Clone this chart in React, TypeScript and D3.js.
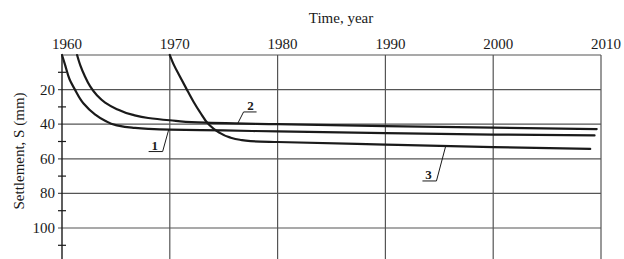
import React, { useRef, useEffect } from "react";
import * as d3 from "d3";

// settlement curves, [year, S (mm)]
const curve1: [number, number][] = [
  [1960, 0], [1960.3, 6], [1960.7, 14], [1961.2, 20], [1962, 28], [1963, 34],
  [1964, 38], [1965, 40.5], [1966.5, 42], [1968, 42.7], [1970, 43.1],
  [1975, 43.6], [1980, 44.2], [1990, 45.2], [2000, 46], [2009.4, 46.5],
];
const curve2: [number, number][] = [
  [1961.4, 0], [1961.7, 6], [1962.1, 12], [1962.6, 18], [1963.2, 23],
  [1964, 27.5], [1965, 31], [1966.5, 34.5], [1968, 36.4], [1970, 37.7],
  [1972.6, 39], [1980, 40], [1990, 41.1], [2000, 42], [2009.6, 42.8],
];
const curve3: [number, number][] = [
  [1970, 0], [1970.4, 6], [1970.9, 12], [1971.5, 19], [1972.2, 27],
  [1972.8, 33], [1973.6, 40], [1974.5, 44.5], [1975.5, 47.5], [1976.5, 49],
  [1977.5, 49.8], [1980, 50.3], [1990, 51.8], [2000, 53.2], [2009, 54.3],
];
const series = [curve1, curve2, curve3];

const yearTicks = [1960, 1970, 1980, 1990, 2000, 2010];
const settlementTicks = [20, 40, 60, 80, 100];
const minorTicks = [10, 30, 50, 70, 90, 110];

// curve labels: name, label point (year, S), curve point the leader goes to
const labels = [
  { name: "1", at: [1968.5, 53.5], tip: [1969.9, 43.1], side: "left" },
  { name: "2", at: [1977.4, 30.6], tip: [1976.3, 39.6], side: "right" },
  { name: "3", at: [1993.9, 70.5], tip: [1995.6, 52.5], side: "left" },
];

function App() {
  const svgRef = useRef<SVGSVGElement>(null);
  const width = 624;
  const height = 259;

  useEffect(() => {
    const svg = d3.select(svgRef.current);
    svg.selectAll("*").remove();

    const x = d3.scaleLinear().domain([1960, 2010]).range([62, 601]);
    const y = d3.scaleLinear().domain([0, 120]).range([55, 262.6]);
    const ink = "#1a1a1a";
    const grid = "#555";
    const font = "'Liberation Serif', 'Times New Roman', serif";

    svg.append("rect").attr("width", width).attr("height", height).attr("fill", "#fff");

    // gridlines
    svg.append("g")
      .selectAll("line")
      .data(yearTicks.slice(1))
      .join("line")
      .attr("x1", (d) => x(d)).attr("x2", (d) => x(d))
      .attr("y1", y(0)).attr("y2", y(120))
      .attr("stroke", grid).attr("stroke-width", 1.2);

    svg.append("g")
      .selectAll("line")
      .data(settlementTicks)
      .join("line")
      .attr("x1", x(1960) - 4).attr("x2", x(2010))
      .attr("y1", (d) => y(d)).attr("y2", (d) => y(d))
      .attr("stroke", grid).attr("stroke-width", 1.2);

    // top border and left axis
    svg.append("line")
      .attr("x1", x(1960)).attr("x2", x(2010))
      .attr("y1", y(0)).attr("y2", y(0))
      .attr("stroke", grid).attr("stroke-width", 1.2);
    svg.append("line")
      .attr("x1", x(1960)).attr("x2", x(1960))
      .attr("y1", y(0)).attr("y2", y(120))
      .attr("stroke", ink).attr("stroke-width", 1.4);

    svg.append("g")
      .selectAll("line")
      .data(minorTicks)
      .join("line")
      .attr("x1", x(1960) - 4).attr("x2", x(1960) + 4)
      .attr("y1", (d) => y(d)).attr("y2", (d) => y(d))
      .attr("stroke", ink).attr("stroke-width", 1.2);

    // tick labels
    svg.append("g")
      .selectAll("text")
      .data(yearTicks)
      .join("text")
      .attr("x", (d) => x(d) + 5)
      .attr("y", 49)
      .attr("text-anchor", "middle")
      .attr("font-family", font).attr("font-size", 15)
      .attr("fill", ink)
      .text((d) => d);

    svg.append("g")
      .selectAll("text")
      .data(settlementTicks)
      .join("text")
      .attr("x", 55)
      .attr("y", (d) => y(d) + 5)
      .attr("text-anchor", "end")
      .attr("font-family", font).attr("font-size", 15)
      .attr("fill", ink)
      .text((d) => d);

    // axis titles
    svg.append("text")
      .attr("x", 341).attr("y", 23)
      .attr("text-anchor", "middle")
      .attr("font-family", font).attr("font-size", 15)
      .attr("fill", ink)
      .text("Time, year");

    svg.append("text")
      .attr("transform", "translate(24,151) rotate(-90)")
      .attr("text-anchor", "middle")
      .attr("font-family", font).attr("font-size", 15)
      .attr("fill", ink)
      .text("Settlement, S (mm)");

    // curves (S rises steadily, so interpolate along the S axis)
    const curveLine = d3.line<[number, number]>()
      .x((d) => x(d[0]))
      .y((d) => y(d[1]))
      .curve(d3.curveMonotoneY);

    svg.append("g")
      .selectAll("path")
      .data(series)
      .join("path")
      .attr("d", (d) => curveLine(d))
      .attr("fill", "none")
      .attr("stroke", ink)
      .attr("stroke-width", 2.2)
      .attr("stroke-linecap", "round");

    // curve labels with leaders
    labels.forEach((l) => {
      const lx = x(l.at[0]);
      const ly = y(l.at[1]);
      const under = l.side === "left" ? [lx - 5, lx + 9] : [lx - 6, lx + 7];
      const joint = l.side === "left" ? under[1] : under[0];
      svg.append("path")
        .attr("d", `M${under[0]},${ly + 4}H${under[1]}M${joint},${ly + 4}L${x(l.tip[0])},${y(l.tip[1])}`)
        .attr("fill", "none")
        .attr("stroke", ink)
        .attr("stroke-width", 1);
      svg.append("text")
        .attr("x", lx + 1).attr("y", ly + 2)
        .attr("text-anchor", "middle")
        .attr("font-family", font).attr("font-size", 13)
        .attr("font-weight", "bold")
        .attr("fill", ink)
        .text(l.name);
    });
  }, []);

  return (
    <svg
      ref={svgRef}
      width={width}
      height={height}
      style={{ position: "absolute", left: 0, top: 0 }}
    ></svg>
  );
}

export default App;
